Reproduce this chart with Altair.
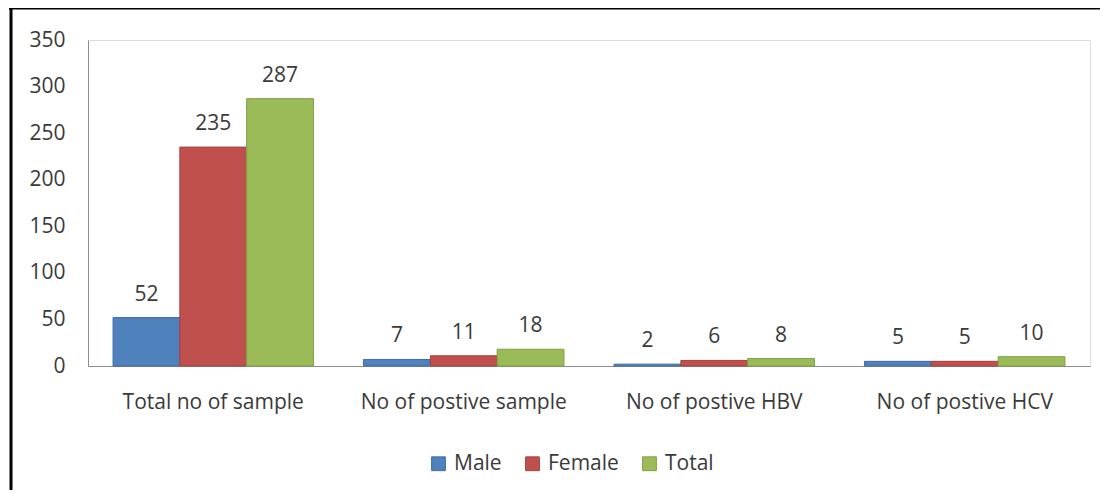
import altair as alt
import pandas as pd

categories = ["Total no of sample", "No of postive sample", "No of postive HBV", "No of postive HCV"]
series = ["Male", "Female", "Total"]
male = [52, 7, 2, 5]
female = [235, 11, 6, 5]
total = [287, 18, 8, 10]
fill_colors = ["#4F81BD", "#C0504D", "#9BBB59"]
edge_colors = ["#3D6DA5", "#A4403D", "#7FA042"]
y_ticks = [0, 50, 100, 150, 200, 250, 300, 350]

rows = []
for s, vals in zip(series, [male, female, total]):
    for c, v in zip(categories, vals):
        rows.append({"category": c, "series": s, "value": v})
df = pd.DataFrame(rows)

FONT = "Open Sans"
TXT = "#3a3a3a"
FS = 21

x_enc = alt.X(
    "category:N", sort=categories,
    scale=alt.Scale(paddingInner=0.2, paddingOuter=0.1),
    axis=alt.Axis(title=None, ticks=False, labelPadding=25, labelFontSize=FS,
                  labelFont=FONT, labelColor=TXT, domainColor="#8c8c8c",
                  labelAngle=0, labelLimit=400),
)
xo_enc = alt.XOffset("series:N", sort=series, scale=alt.Scale(paddingInner=0, paddingOuter=0))
y_enc = alt.Y(
    "value:Q", scale=alt.Scale(domain=[0, 350], nice=False),
    axis=alt.Axis(title=None, ticks=False, grid=False, values=y_ticks, labelPadding=23,
                  labelFontSize=FS, labelFont=FONT, labelColor=TXT, domainColor="#8c8c8c"),
)

bars = alt.Chart(df).mark_bar(strokeWidth=1).encode(
    x=x_enc, xOffset=xo_enc, y=y_enc,
    color=alt.Color("series:N", sort=series,
                    scale=alt.Scale(domain=series, range=fill_colors),
                    legend=alt.Legend(title=None, orient="none", legendX=340, legendY=413,
                                      direction="horizontal", columns=3,
                                      symbolType="square", symbolSize=190,
                                      symbolStrokeWidth=1, symbolStrokeColor="#666666",
                                      labelFontSize=FS, labelFont=FONT, labelColor=TXT,
                                      labelOffset=5, columnPadding=20)),
    stroke=alt.Stroke("series:N", sort=series,
                      scale=alt.Scale(domain=series, range=edge_colors), legend=None),
)

labels = alt.Chart(df).mark_text(dy=-17, baseline="alphabetic", fontSize=FS, font=FONT,
                                  color=TXT).encode(
    x=alt.X("category:N", sort=categories), xOffset=alt.XOffset("series:N", sort=series),
    y=alt.Y("value:Q"), text=alt.Text("value:Q"),
)

frame = pd.DataFrame({"k": [0]})
left_border = alt.Chart(frame).mark_rule(color="black", strokeWidth=3).encode(
    x=alt.value(-77), y=alt.value(-33), y2=alt.value(470))
top_border = alt.Chart(frame).mark_rule(color="black", strokeWidth=3).encode(
    x=alt.value(-79), x2=alt.value(1020), y=alt.value(-32))

chart = alt.layer(bars, labels, left_border, top_border).properties(
    width=1002, height=326,
    autosize=alt.AutoSizeParams(type="none"),
    padding={"left": 80, "top": 32, "right": 10, "bottom": 124},
).configure_view(fill="#E6E6E6", stroke=None).configure(background="white")

chart.save("out.html", embed_options={"renderer": "svg", "actions": False})
